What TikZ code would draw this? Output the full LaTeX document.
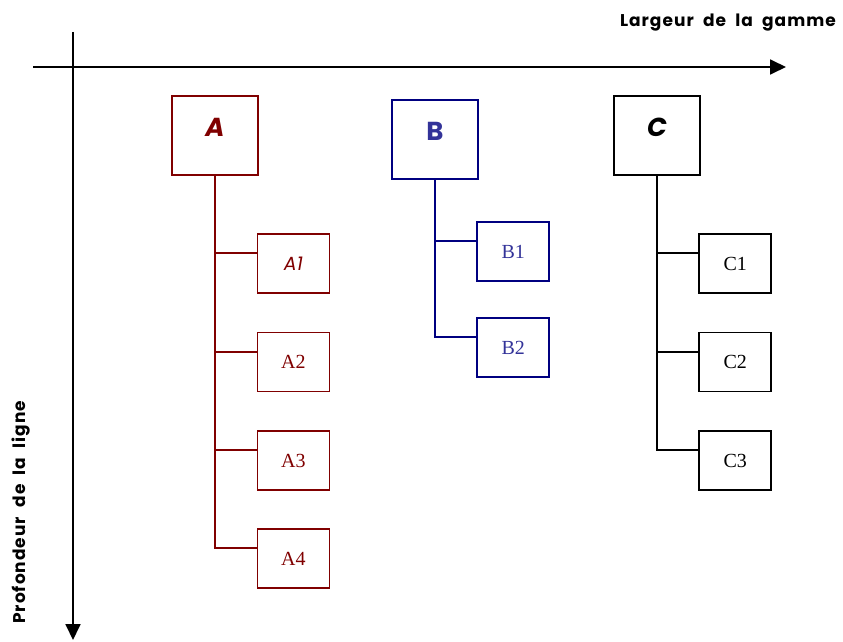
\documentclass[tikz,border=0pt]{standalone}
\usepackage{fontspec}
\setmainfont{Liberation Serif}
\newfontfamily\comic{Poppins}
\newfontfamily\comicwide{Poppins}[LetterSpace=6,WordSpace=2]
\usetikzlibrary{arrows.meta,calc}
\definecolor{ared}{HTML}{800000}
\definecolor{bline}{HTML}{000080}
\definecolor{btext}{HTML}{333399}
\begin{document}
\begin{tikzpicture}[x=1pt,y=-1pt,
  axis/.style={line width=1.8pt,-{Triangle[length=16pt,width=15pt]}},
  bigbox/.style={draw,line width=1.7pt,minimum width=86pt,minimum height=79pt,inner sep=0pt,
    text height=18pt,text depth=16pt,font=\comic\bfseries\fontsize{26}{28}\selectfont},
  smallbox/.style={draw,line width=1.7pt,minimum width=72pt,minimum height=59pt,inner sep=0pt,
    font=\fontsize{20}{24}\selectfont},
  conn/.style={line width=1.7pt},
  axlabel/.style={font=\comicwide\bfseries\fontsize{17}{20}\selectfont,inner sep=0pt}]
\useasboundingbox (0,0) rectangle (843,642);
% axes
\coordinate (hs) at (33,67);
\coordinate (he) at (786,67);
\coordinate (vs) at (73,32);
\coordinate (ve) at (73,640);
\draw[axis] (hs) -- (he);
\draw[axis] (vs) -- (ve);
\node[axlabel,anchor=base east] (lg) at (836,27) {Largeur de la gamme};
\node[axlabel,anchor=base west,rotate=90] (pl) at (25,624) {Profondeur de la ligne};
% A
\begin{scope}[color=ared]
\node[bigbox,font=\comic\bfseries\itshape\fontsize{26}{28}\selectfont] (A) at (215,135.5) {A};
\node[smallbox,font=\comic\itshape\fontsize{19}{24}\selectfont] (A1) at (293.4,263.5) {A1};
\node[smallbox] (A2) at (293.4,362) {A2};
\node[smallbox] (A3) at (293.4,460.5) {A3};
\node[smallbox] (A4) at (293.4,558.5) {A4};
\foreach \n in {A1,A2,A3,A4}
  \draw[conn] ($(\n.north west)+(0,20)$) -| (A.south);
\end{scope}
% B
\node[bigbox,draw=bline,text=btext] (B) at (435,139.6) {B};
\node[smallbox,draw=bline,text=btext] (B1) at (513.3,251.5) {B1};
\node[smallbox,draw=bline,text=btext] (B2) at (513.3,347.5) {B2};
\foreach \n in {B1,B2}
  \draw[conn,bline] ($(\n.north west)+(0,20)$) -| (B.south);
% C
\node[bigbox,font=\comic\bfseries\itshape\fontsize{26}{28}\selectfont] (C) at (657,135.6) {C};
\node[smallbox] (C1) at (735.3,263.5) {C1};
\node[smallbox] (C2) at (735.3,362) {C2};
\node[smallbox] (C3) at (735.3,460.5) {C3};
\foreach \n in {C1,C2,C3}
  \draw[conn] ($(\n.north west)+(0,20)$) -| (C.south);
\end{tikzpicture}
\end{document}
